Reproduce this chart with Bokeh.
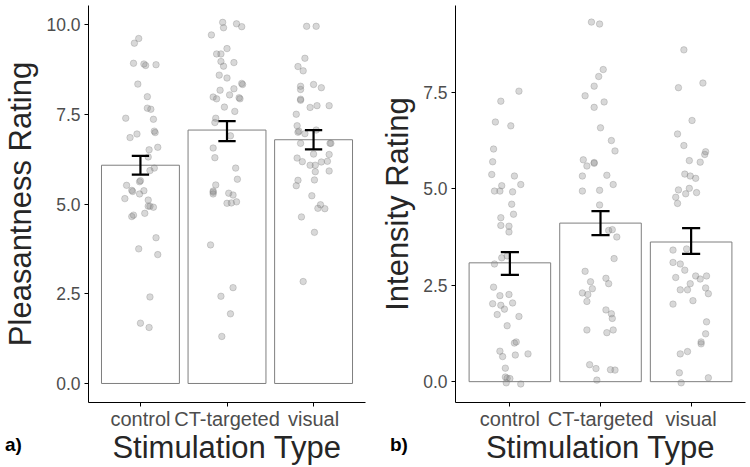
from bokeh.plotting import figure
from bokeh.layouts import row, column
from bokeh.models import ColumnDataSource, FixedTicker, PrintfTickFormatter, Range1d, Div
from bokeh.embed import file_html
from bokeh.resources import INLINE

categories = ["control", "CT-targeted", "visual"]

# Panel a) Pleasantness
pleas_mean = [6.08, 7.06, 6.79]
pleas_lower = [5.82, 6.75, 6.52]
pleas_upper = [6.34, 7.31, 7.06]

pleas_control = [9.61, 9.48, 8.92, 8.90, 8.86, 8.88, 8.34, 7.99, 7.67, 7.64, 7.39, 7.36, 6.99, 7.03,
                 6.95, 6.85, 6.58, 6.51, 6.31, 6.00, 5.93, 5.62, 5.65, 5.52, 5.35, 5.38, 5.37, 5.28,
                 5.15, 5.11, 4.94, 4.94, 4.91, 4.74, 4.69, 4.65, 4.06, 3.75, 3.59, 2.41, 1.68, 1.56]
pleas_control_jit = [-0.02, -0.07, -0.08, 0.04, 0.06, 0.18, -0.03, 0.08, 0.08, 0.12, -0.17, 0.15, 0.17, 0.16,
                     -0.04, -0.12, 0.20, 0.10, 0.09, 0.16, 0.11, -0.01, 0.0, -0.16, -0.09, -0.10, 0.04, -0.01,
                     -0.18, 0.09, 0.09, 0.11, 0.15, 0.05, -0.08, -0.10, 0.18, -0.02, 0.20, 0.11, 0.0, 0.10]
pleas_ct = [10.06, 9.91, 10.02, 9.94, 9.71, 9.33, 9.18, 9.18, 8.97, 8.84, 8.94, 8.59, 8.51, 8.33, 8.36,
            8.17, 8.21, 8.04, 7.98, 7.93, 7.93, 7.96, 7.70, 7.58, 7.39, 7.27, 6.90, 6.56, 6.29, 6.00,
            5.69, 5.53, 5.33, 5.36, 5.28, 5.30, 5.25, 5.02, 5.03, 5.06, 3.86, 2.67, 2.43, 1.94, 1.31]
pleas_ct_jit = [-0.05, -0.04, 0.11, 0.17, -0.18, 0.0, -0.12, -0.07, -0.07, -0.04, 0.08, -0.09, 0.0, 0.18, 0.17,
                -0.08, 0.08, 0.03, -0.16, -0.12, 0.15, 0.14, -0.03, 0.09, -0.13, -0.14, 0.04, -0.16, -0.14, 0.10,
                0.12, -0.13, -0.16, -0.16, -0.16, 0.02, 0.07, 0.0, 0.05, 0.11, -0.19, 0.07, -0.07, 0.04, -0.06]
pleas_visual = [9.95, 9.95, 9.06, 8.83, 8.71, 8.28, 8.19, 8.33, 8.24, 7.89, 7.92, 7.69, 7.74, 7.74, 7.50,
                7.18, 7.00, 7.03, 6.96, 7.06, 6.69, 6.69, 6.69, 6.39, 6.38, 6.28, 6.18, 6.08, 6.08, 6.17,
                6.19, 5.90, 5.92, 5.66, 5.51, 5.67, 5.23, 4.98, 4.88, 4.87, 4.64, 4.21, 2.84]
pleas_visual_jit = [-0.08, 0.03, -0.10, -0.18, -0.12, -0.15, -0.15, 0.0, 0.09, -0.15, -0.15, -0.04, 0.04, 0.18, -0.20,
                    -0.19, -0.18, -0.17, -0.10, 0.03, -0.15, 0.19, 0.20, 0.0, 0.18, -0.19, -0.13, -0.04, 0.02, 0.09,
                    0.16, 0.02, 0.18, -0.18, -0.20, 0.01, -0.02, 0.08, 0.05, 0.13, -0.14, 0.01, -0.12]

# Panel b) Intensity
inten_mean = [3.08, 4.11, 3.62]
inten_lower = [2.77, 3.80, 3.31]
inten_upper = [3.36, 4.42, 3.98]

inten_control = [7.53, 7.27, 6.73, 6.63, 6.03, 5.70, 5.37, 5.33, 5.11, 5.08, 4.94, 4.94, 4.92, 4.60, 4.34,
                 4.25, 4.05, 4.03, 3.88, 3.21, 3.26, 3.05, 2.45, 2.23, 2.26, 2.02, 1.98, 2.04, 1.88, 1.74,
                 1.69, 1.45, 1.00, 1.03, 0.79, 0.65, 0.69, 0.72, 0.35, 0.12, 0.09, 0.08, -0.03, -0.06]
inten_control_jit = [0.10, -0.10, -0.16, 0.01, -0.18, -0.19, -0.20, 0.05, 0.12, -0.09, -0.17, -0.11, 0.03, 0.02, 0.04,
                     -0.10, -0.10, -0.01, -0.01, -0.09, -0.03, -0.17, -0.18, -0.11, -0.01, -0.19, -0.10, 0.03, -0.06, -0.14,
                     0.10, -0.03, 0.05, 0.07, -0.11, -0.08, 0.06, 0.20, -0.05, -0.05, -0.03, 0.0, -0.04, 0.12]
inten_ct = [9.32, 9.27, 8.09, 7.91, 7.66, 7.41, 7.25, 7.11, 6.58, 6.25, 5.98, 5.75, 5.66, 5.68, 5.59,
            5.33, 5.35, 5.11, 4.94, 4.96, 4.58, 3.92, 3.94, 3.75, 3.19, 2.86, 2.68, 2.59, 2.54, 2.41,
            2.30, 2.26, 2.08, 1.86, 1.76, 1.64, 1.34, 1.27, 1.34, 0.44, 0.34, 0.31, 0.30, 0.04]
inten_ct_jit = [-0.10, -0.01, 0.03, -0.02, -0.07, -0.17, 0.04, -0.07, 0.0, 0.12, 0.16, -0.19, -0.07, -0.07, -0.15,
                -0.20, 0.07, 0.14, -0.20, -0.01, -0.01, 0.09, 0.13, 0.18, 0.15, -0.17, 0.06, -0.11, 0.09, -0.09,
                -0.20, -0.14, -0.15, 0.06, 0.12, 0.13, -0.15, 0.07, 0.14, -0.12, -0.05, 0.11, 0.16, -0.04]
inten_visual = [8.60, 7.74, 7.62, 6.77, 6.42, 6.12, 5.96, 5.89, 5.73, 5.69, 5.38, 5.33, 5.27, 4.97, 5.01,
                4.87, 4.90, 4.78, 4.62, 3.44, 3.41, 3.09, 3.05, 2.89, 2.70, 2.74, 2.66, 2.74, 2.54, 2.38,
                2.38, 2.43, 2.28, 2.10, 2.01, 1.55, 1.24, 1.03, 0.98, 0.72, 0.78, 0.23, 0.10, -0.03]
inten_visual_jit = [-0.08, 0.13, -0.14, 0.01, -0.15, -0.08, 0.16, 0.15, -0.02, 0.10, -0.07, -0.01, 0.05, -0.14, -0.02,
                    -0.06, 0.06, -0.17, -0.15, -0.05, -0.20, -0.20, -0.12, -0.07, -0.17, 0.05, 0.10, 0.17, -0.01, -0.12,
                    -0.04, 0.16, 0.19, 0.02, -0.20, 0.17, 0.16, 0.11, 0.11, -0.12, -0.04, -0.13, 0.19, -0.11]

pleas_yticks = [0, 2.5, 5, 7.5, 10]
inten_yticks = [0, 2.5, 5, 7.5]

FONT = "Liberation Sans"
TICK_COLOR = "#4D4D4D"
TITLE_COLOR = "#262626"


def make_panel(left_border, right_border, yrange, yticks, ytitle,
               means, lower, upper, points, jitters):
    p = figure(width=375, height=467, x_range=Range1d(0.4, 3.6), y_range=Range1d(*yrange),
               output_backend="svg", toolbar_location=None,
               min_border_left=left_border, min_border_right=right_border,
               min_border_top=5, min_border_bottom=64)
    p.xgrid.visible = False
    p.ygrid.visible = False
    p.outline_line_color = None
    p.background_fill_color = "white"
    p.border_fill_color = "white"

    xs = list(range(1, len(categories) + 1))
    src = ColumnDataSource(dict(x=xs, top=means, lo=lower, hi=upper,
                                cl=[x - 0.1 for x in xs], cr=[x + 0.1 for x in xs]))
    p.vbar(x="x", top="top", bottom=0, width=0.9, source=src,
           fill_color="white", line_color="#7f7f7f", line_width=1)

    for i, (vals, jit) in enumerate(zip(points, jitters)):
        px = [xs[i] + j for j in jit]
        p.scatter(px, vals, size=6.5, marker="circle",
                  fill_color="#7f7f7f", fill_alpha=0.3,
                  line_color="#7f7f7f", line_alpha=0.3, line_width=1)

    p.segment(x0="x", y0="lo", x1="x", y1="hi", source=src, line_color="black", line_width=2.2)
    p.segment(x0="cl", y0="lo", x1="cr", y1="lo", source=src, line_color="black", line_width=2.2)
    p.segment(x0="cl", y0="hi", x1="cr", y1="hi", source=src, line_color="black", line_width=2.2)

    p.xaxis.ticker = FixedTicker(ticks=xs)
    p.xaxis.major_label_overrides = {x: c for x, c in zip(xs, categories)}
    p.yaxis.ticker = FixedTicker(ticks=yticks)
    p.yaxis.formatter = PrintfTickFormatter(format="%.1f")
    for ax in (p.xaxis[0], p.yaxis[0]):
        ax.axis_line_color = "black"
        ax.axis_line_width = 1
        ax.major_tick_line_color = "black"
        ax.major_tick_in = 0
        ax.major_tick_out = 4
        ax.minor_tick_line_color = None
        ax.major_label_text_font = FONT
        ax.major_label_text_color = TICK_COLOR
        ax.axis_label_text_font = FONT
        ax.axis_label_text_font_size = "31px"
        ax.axis_label_text_font_style = "normal"
        ax.axis_label_text_color = TITLE_COLOR
    p.xaxis.major_label_text_font_size = "20px"
    p.yaxis.major_label_text_font_size = "17.5px"
    p.xaxis.major_label_standoff = 1
    p.yaxis.major_label_standoff = 4
    p.xaxis.axis_label_standoff = -3
    p.yaxis.axis_label_standoff = 5
    p.xaxis.axis_label = "Stimulation Type"
    p.yaxis.axis_label = ytitle
    return p


pa = make_panel(86, 10, (-0.53, 10.53), pleas_yticks, "Pleasantness Rating",
                pleas_mean, pleas_lower, pleas_upper,
                [pleas_control, pleas_ct, pleas_visual],
                [pleas_control_jit, pleas_ct_jit, pleas_visual_jit])
pb = make_panel(80, 5, (-0.54, 9.75), inten_yticks, "Intensity Rating",
                inten_mean, inten_lower, inten_upper,
                [inten_control, inten_ct, inten_visual],
                [inten_control_jit, inten_ct_jit, inten_visual_jit])

tag_style = {"font-family": FONT, "font-size": "19px", "font-weight": "bold",
             "color": "black", "line-height": "24px"}
tag_a = Div(text="a)", width=30, height=24, margin=(-34, 0, 0, 5), styles=tag_style)
tag_b = Div(text="b)", width=30, height=24, margin=(-34, 0, 0, 355), styles=tag_style)

layout = column(row(pa, pb), row(tag_a, tag_b))
open("out.html", "w").write(file_html(layout, INLINE))
